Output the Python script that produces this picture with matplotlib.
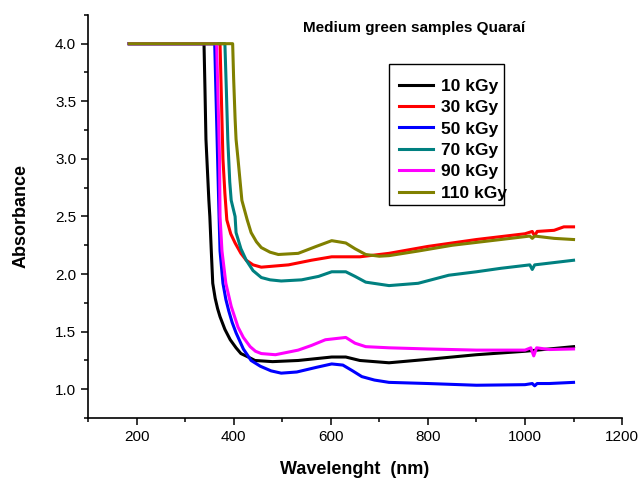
import matplotlib.pyplot as plt
from matplotlib.patches import Rectangle
from matplotlib.ticker import MultipleLocator

plt.rcParams["font.family"] = ["Liberation Sans", "DejaVu Sans"]

# values (wavelength nm, absorbance)
wl_10 = [185, 339, 341, 343, 349, 351, 354, 357, 362, 367, 372, 382, 393, 405, 415, 430,
         444, 480, 533, 602, 631, 660, 720, 800, 900, 1000, 1100]
abs_10 = [4.0, 4.0, 3.6, 3.17, 2.64, 2.5, 2.2, 1.92, 1.79, 1.70, 1.63, 1.52, 1.43, 1.36, 1.31, 1.28,
          1.25, 1.24, 1.25, 1.28, 1.28, 1.25, 1.23, 1.26, 1.30, 1.33, 1.37]

wl_30 = [185, 372, 375, 378, 382, 386, 394, 403, 415, 426, 440, 457, 485, 513, 560,
         602, 660, 720, 800, 900, 1000, 1015, 1020, 1025, 1060, 1080, 1100]
abs_30 = [4.0, 4.0, 3.5, 3.0, 2.7, 2.47, 2.35, 2.27, 2.18, 2.12, 2.08, 2.06, 2.07, 2.08, 2.12,
          2.15, 2.15, 2.18, 2.24, 2.30, 2.35, 2.37, 2.33, 2.37, 2.38, 2.41, 2.41]

wl_50 = [185, 361, 364, 367, 370, 372, 378, 384, 390, 397, 405, 420, 436, 455, 477, 498, 530,
         570, 602, 625, 645, 664, 690, 720, 800, 900, 1000, 1015, 1020, 1025, 1050, 1100]
abs_50 = [4.0, 4.0, 3.5, 3.0, 2.5, 2.2, 1.92, 1.78, 1.68, 1.58, 1.49, 1.35, 1.25, 1.20, 1.16, 1.14, 1.15,
          1.19, 1.22, 1.21, 1.16, 1.11, 1.08, 1.06, 1.05, 1.035, 1.04, 1.05, 1.03, 1.05, 1.05, 1.06]

wl_70 = [185, 382, 385, 388, 392, 395, 403, 405, 415, 426, 440, 457, 475, 498, 540, 575,
         602, 631, 650, 672, 720, 780, 843, 900, 950, 1010, 1015, 1020, 1060, 1100]
abs_70 = [4.0, 4.0, 3.6, 3.17, 2.8, 2.64, 2.5, 2.36, 2.22, 2.12, 2.03, 1.97, 1.95, 1.94, 1.95, 1.98,
          2.02, 2.02, 1.98, 1.93, 1.90, 1.92, 1.99, 2.02, 2.05, 2.08, 2.04, 2.08, 2.10, 2.12]

wl_90 = [185, 365, 368, 371, 372, 376, 384, 395, 409, 420, 434, 445, 457, 486, 533, 560,
         589, 631, 650, 672, 720, 800, 900, 1000, 1012, 1018, 1024, 1050, 1100]
abs_90 = [4.0, 4.0, 3.5, 3.0, 2.5, 2.2, 1.92, 1.72, 1.54, 1.45, 1.37, 1.33, 1.31, 1.30, 1.34, 1.38,
          1.43, 1.45, 1.40, 1.37, 1.36, 1.35, 1.34, 1.34, 1.36, 1.29, 1.36, 1.345, 1.35]

wl_110 = [185, 398, 400, 403, 405, 409, 417, 428, 436, 447, 457, 475, 492, 533, 570, 602,
          631, 650, 672, 700, 720, 780, 850, 950, 1010, 1015, 1020, 1060, 1100]
abs_110 = [4.0, 4.0, 3.7, 3.35, 3.17, 3.0, 2.64, 2.47, 2.36, 2.28, 2.23, 2.19, 2.17, 2.18, 2.24, 2.29,
           2.27, 2.22, 2.17, 2.155, 2.16, 2.20, 2.25, 2.30, 2.33, 2.31, 2.33, 2.31, 2.30]

series = [
    ("10 kGy", wl_10, abs_10, "black"),
    ("30 kGy", wl_30, abs_30, "#ff0000"),
    ("50 kGy", wl_50, abs_50, "#0000ff"),
    ("70 kGy", wl_70, abs_70, "#008080"),
    ("90 kGy", wl_90, abs_90, "#ff00ff"),
    ("110 kGy", wl_110, abs_110, "#808000"),
]

fig = plt.figure(figsize=(6.42, 4.8), dpi=100)
ax = fig.add_axes([0.137, 0.129, 0.832, 0.840])

for label, x, y, color in series:
    ax.plot(x, y, color=color, linewidth=2.2, label=label)

ax.set_xlim(100, 1200)
ax.set_ylim(0.75, 4.25)
ax.xaxis.set_major_locator(MultipleLocator(200))
ax.xaxis.set_minor_locator(MultipleLocator(100))
ax.yaxis.set_major_locator(MultipleLocator(0.5))
ax.yaxis.set_minor_locator(MultipleLocator(0.25))
ax.yaxis.set_major_formatter(plt.FormatStrFormatter("%.1f"))

for side in ["top", "right"]:
    ax.spines[side].set_visible(False)
for side in ["left", "bottom"]:
    ax.spines[side].set_linewidth(1.2)

ax.tick_params(which="major", direction="out", length=5, width=1.1, labelsize=11)
ax.tick_params(which="minor", direction="out", length=3, width=1.1)

ax.set_xlabel("Wavelenght  (nm)", fontsize=13, fontweight="bold", labelpad=12)
ax.set_ylabel("Absorbance", fontsize=13, fontweight="bold", labelpad=18)

ax.text(0.61, 0.985, "Medium green samples Quaraí", transform=ax.transAxes,
        ha="center", va="top", fontsize=11, fontweight="bold")

# legend drawn without its own frame; box is tight on the right like the original
ax.legend(loc="upper left", bbox_to_anchor=(0.582, 0.842),
          prop={"weight": "bold", "size": 12.5}, frameon=False,
          handlelength=1.95, handletextpad=0.46,
          labelspacing=0.36, borderpad=0, borderaxespad=0)
ax.add_patch(Rectangle((0.564, 0.529), 0.215, 0.350, transform=ax.transAxes,
                       fill=False, edgecolor="black", linewidth=1.0, zorder=5))

fig.savefig("out.png", dpi=100)
